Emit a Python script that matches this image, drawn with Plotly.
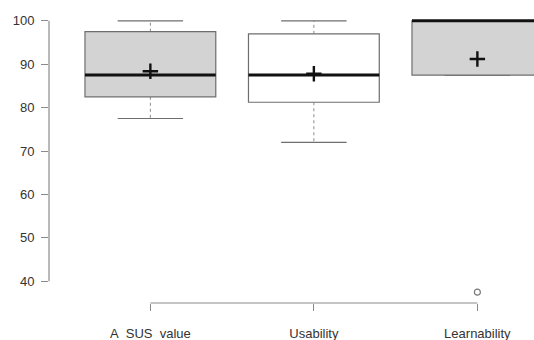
import plotly.graph_objects as go

# SUS questionnaire scores: summary statistics per scale
categories = ["A\u00a0\u00a0SUS\u00a0\u00a0value", "Usability", "Learnability"]
positions = [1, 2, 3]
q1 = [82.5, 81.25, 87.5]
median = [87.5, 87.5, 100.0]
q3 = [97.5, 97.0, 100.0]
whisker_low = [77.5, 72.0, 87.5]
whisker_high = [100.0, 100.0, 100.0]
means = [88.4, 87.8, 91.2]
outlier_pos = [3]
outlier_val = [37.5]
box_fill = ["#d3d3d3", "#ffffff", "#d3d3d3"]
y_ticks = [40, 50, 60, 70, 80, 90, 100]

BOX_W = 0.8
STAPLE_W = 0.4
EDGE = "#6e6e6e"
AXIS = "#8a8a8a"
TEXT = "#333333"

shapes = []
for x, lo, a, m, b, hi, fill in zip(positions, whisker_low, q1, median, q3, whisker_high, box_fill):
    # whiskers (dashed) and staples
    for y0, y1 in ((b, hi), (a, lo)):
        if y0 != y1:
            shapes.append(dict(type="line", xref="x", yref="y", x0=x, x1=x, y0=y0, y1=y1,
                               line=dict(color=AXIS, width=1, dash="3px,3px"), layer="below"))
    for yv in (lo, hi):
        shapes.append(dict(type="line", xref="x", yref="y", x0=x - STAPLE_W / 2, x1=x + STAPLE_W / 2,
                           y0=yv, y1=yv, line=dict(color=EDGE, width=1.2), layer="below"))
    # box body
    shapes.append(dict(type="rect", xref="x", yref="y", x0=x - BOX_W / 2, x1=x + BOX_W / 2,
                       y0=a, y1=b, fillcolor=fill, line=dict(color=EDGE, width=1.2), layer="below"))
    # median
    shapes.append(dict(type="line", xref="x", yref="y", x0=x - BOX_W / 2, x1=x + BOX_W / 2,
                       y0=m, y1=m, line=dict(color="#111111", width=3), layer="below"))

# axis lines spanning only the tick / category range
shapes.append(dict(type="line", xref="paper", yref="y", x0=0, x1=0,
                   y0=min(y_ticks), y1=max(y_ticks), line=dict(color=AXIS, width=1.2)))
shapes.append(dict(type="line", xref="x", yref="paper", x0=min(positions), x1=max(positions),
                   y0=0, y1=0, line=dict(color=AXIS, width=1.2)))

fig = go.Figure()
fig.add_trace(go.Scatter(x=positions, y=means, mode="markers",
                         marker=dict(symbol="cross-thin", size=11, color="#111111",
                                     line=dict(color="#111111", width=2.4)),
                         showlegend=False, hoverinfo="y"))
fig.add_trace(go.Scatter(x=outlier_pos, y=outlier_val, mode="markers",
                         marker=dict(symbol="circle-open", size=6, color="#777777",
                                     line=dict(color="#777777", width=1.2)),
                         showlegend=False, hoverinfo="y"))

fig.update_layout(
    width=534, height=340,
    margin=dict(l=49, r=0, t=10, b=37),
    paper_bgcolor="white", plot_bgcolor="white",
    font=dict(family="Liberation Sans, Arial, sans-serif", size=13, color=TEXT),
    shapes=shapes,
    showlegend=False,
    xaxis=dict(range=[0.38, 0.38 + (534 - 49) / 163.5], tickvals=positions, ticktext=categories,
               showline=False, showgrid=False, zeroline=False,
               ticks="outside", ticklen=7, tickwidth=1.2, tickcolor=AXIS,
               tickfont=dict(size=13, color=TEXT), ticklabelstandoff=11),
    yaxis=dict(range=[35, 102.5], tickvals=y_ticks,
               showline=False, showgrid=False, zeroline=False,
               ticks="outside", ticklen=7, tickwidth=1.2, tickcolor=AXIS,
               tickfont=dict(size=13, color=TEXT), ticklabelstandoff=4),
)

fig.write_html("out.html")
